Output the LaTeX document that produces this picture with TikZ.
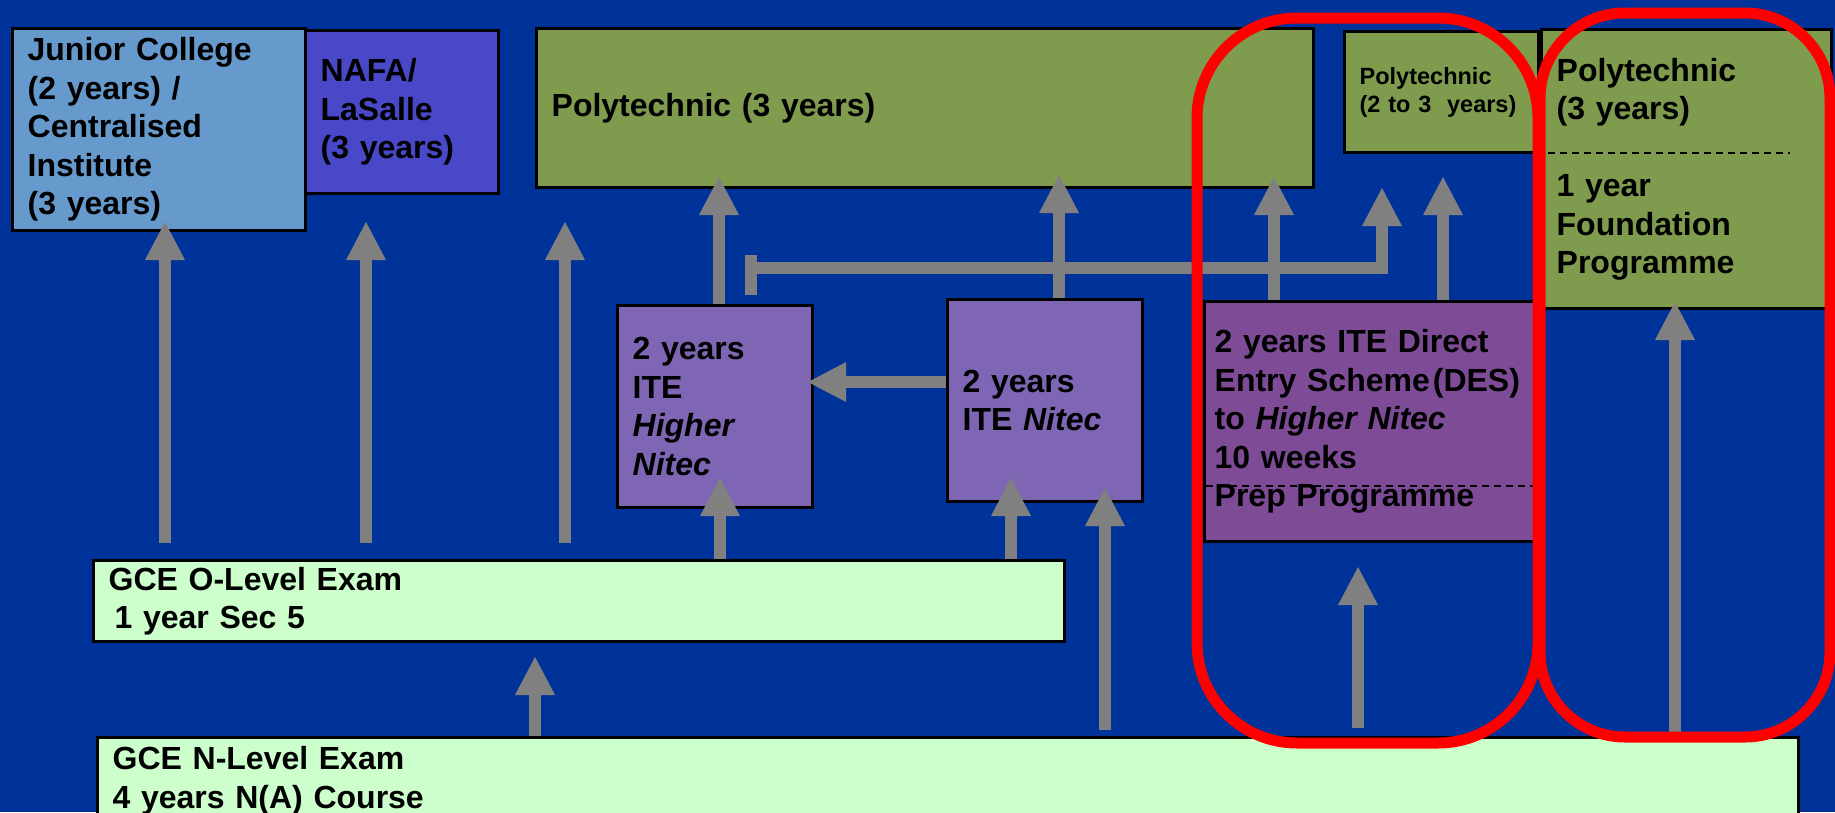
\documentclass[tikz,border=0pt]{standalone}
\usepackage{fontspec}
\setmainfont{Liberation Sans}
\usetikzlibrary{arrows.meta}

\definecolor{bgblue}{RGB}{0,51,153}
\definecolor{jcblue}{RGB}{102,153,204}
\definecolor{nafablue}{RGB}{72,72,200}
\definecolor{polygreen}{RGB}{127,155,77}
\definecolor{itepurple}{RGB}{126,102,180}
\definecolor{despurple}{RGB}{126,76,150}
\definecolor{examgreen}{RGB}{204,255,204}
\definecolor{arrowgrey}{RGB}{128,128,128}

\tikzset{
  stagebox/.style={draw=black, line width=3.3pt, anchor=north west, inner xsep=15pt, inner ysep=0pt, align=left, font={\fontsize{32}{38.5}\selectfont\bfseries}},
  uparrow/.style={draw=arrowgrey, line width=12.5pt, -{Triangle[length=38pt, width=40pt, line width=0pt]}},
  dashsep/.style={draw=black, line width=2pt, dash pattern=on 7pt off 5pt},
}

\begin{document}
\begin{tikzpicture}[x=1pt, y=-1pt]
		%%%%% BACKGROUND %%%%%
		\useasboundingbox (0,0) rectangle (1835,812);
		\clip (0,0) rectangle (1835,812);
		\fill[bgblue] (0,0) rectangle (1835,812);
		
		%%%%% UPPER ROW %%%%%
		\node[stagebox, fill=jcblue, minimum width=293pt, text width=263pt, minimum height=202pt] (jc) at (11,27) {Junior College\\(2 years) /\\Centralised\\Institute\\(3 years)};
		\node[stagebox, fill=nafablue, minimum width=193pt, text width=163pt, minimum height=163pt] (nafa) at (304,29) {NAFA/\\LaSalle\\(3 years)};
		\node[stagebox, fill=polygreen, minimum width=777pt, text width=747pt, minimum height=159pt] (polyA) at (535,27) {Polytechnic (3 years)};
		\node[stagebox, fill=polygreen, minimum width=194pt, text width=164pt, minimum height=121pt, font={\fontsize{23.5}{28}\selectfont\bfseries}] (polyB) at (1343,30) {Polytechnic\\(2 to 3\ \ years)};
		\node[stagebox, fill=polygreen, minimum width=290pt, text width=260pt, minimum height=279pt] (polyC) at (1540,28) {Polytechnic\\(3 years)\\[38.5pt]1 year\\Foundation\\Programme};
		\draw[dashsep] (1548,153) -- (1790,153);
		
		%%%%% ITE ROW %%%%%
		\node[stagebox, fill=itepurple, minimum width=195pt, text width=165pt, minimum height=202pt] (hnitec) at (616,304) {2 years\\ITE\\\textit{Higher}\\\textit{Nitec}};
		\node[stagebox, fill=itepurple, minimum width=195pt, text width=165pt, minimum height=202pt] (nitec) at (946,298) {2 years\\ITE \textit{Nitec}};
		\node[stagebox, fill=despurple, minimum width=330pt, text width=310pt, inner xsep=10pt, minimum height=240pt] (des) at (1203,300) {2 years ITE Direct\\Entry Scheme\hspace{3pt}(DES)\\to \textit{Higher Nitec}\\10 weeks\\Prep Programme};
		\draw[dashsep] (1206,486) -- (1533,486);
		
		%%%%% EXAMS %%%%%
		\node[stagebox, fill=examgreen, minimum width=971pt, text width=941pt, minimum height=81pt] (olevel) at (92,559) {GCE O-Level Exam\\\hspace*{6pt}1 year Sec 5};
		\node[stagebox, fill=examgreen, minimum width=1701pt, text width=1671pt, inner ysep=9pt] (nlevel) at (96,736) {GCE N-Level Exam\\4 years N(A) Course};
		
		%%%%% ARROWS %%%%%
		\coordinate (t1) at (165,222);
		\coordinate (t2) at (366,222);
		\coordinate (t3) at (565,222);
		\coordinate (t4) at (720,478);
		\coordinate (t5) at (1011,478);
		\coordinate (t6) at (1105,488);
		\coordinate (t7) at (535,657);
		\coordinate (t8) at (1358,567);
		\coordinate (t9) at (1675,302);
		\coordinate (t10) at (719,177);
		\coordinate (t11) at (1059,175);
		\coordinate (t12) at (1274,177);
		\coordinate (t13) at (1443,177);
		\coordinate (t14) at (1382,188);
		\coordinate (t15) at (808,382);
		\coordinate (b0) at (751,268);
		
		\draw[uparrow, shorten <=16pt] (t1 |- olevel.north) -- (t1);
		\draw[uparrow, shorten <=16pt] (t2 |- olevel.north) -- (t2);
		\draw[uparrow, shorten <=16pt] (t3 |- olevel.north) -- (t3);
		\draw[uparrow] (t4 |- olevel.north) -- (t4);
		\draw[uparrow] (t5 |- olevel.north) -- (t5);
		\draw[uparrow, shorten <=6pt] (t6 |- nlevel.north) -- (t6);
		\draw[uparrow] (t7 |- nlevel.north) -- (t7);
		\draw[uparrow, shorten <=8pt] (t8 |- nlevel.north) -- (t8);
		\draw[uparrow] (t9 |- nlevel.north) -- (t9);
		
		\draw[uparrow] (t10 |- hnitec.north) -- (t10);
		\draw[uparrow] (t11 |- nitec.north) -- (t11);
		\draw[uparrow] (t12 |- des.north) -- (t12);
		\draw[uparrow] (t13 |- des.north) -- (t13);
		\draw[uparrow] (t15 -| nitec.west) -- (t15);
		
		\draw[draw=arrowgrey, line width=12.7pt] (b0) ++(0,-13) -- ++(0,40);
		\draw[uparrow] (b0) -| (t14);
		
		%%%%% HIGHLIGHTS %%%%%
		\draw[red, line width=11pt, rounded corners=100pt] (1197,18) rectangle (1538,743);
		\draw[red, line width=11pt, rounded corners=85pt] (1540,13) rectangle (1830,737);
\end{tikzpicture}
\end{document}
